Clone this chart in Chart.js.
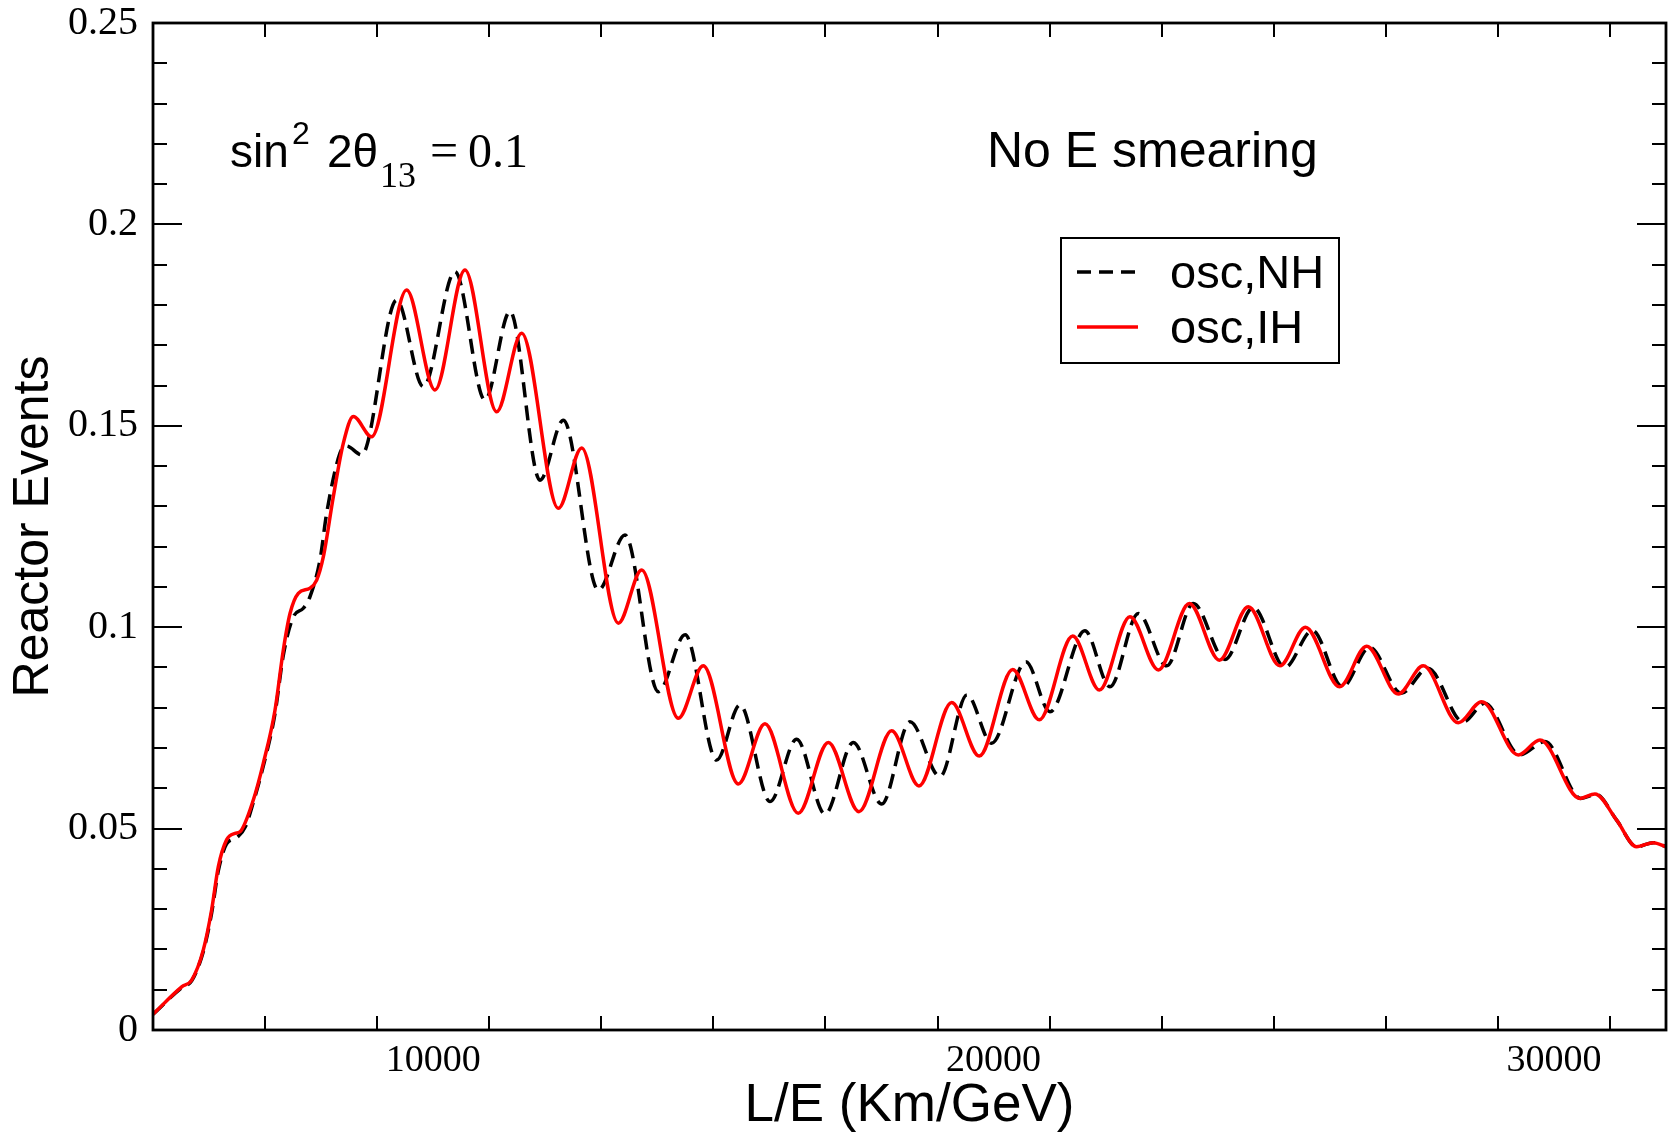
<!DOCTYPE html>
<html>
<head>
<meta charset="utf-8">
<script src="https://cdn.jsdelivr.net/npm/chart.js@4.4.0/dist/chart.umd.min.js"></script>
<style>
  html, body { margin: 0; padding: 0; background: #fff; }
</style>
</head>
<body>
<canvas id="chart" width="1669" height="1143"></canvas>
<script>
// values (peaks, troughs and shoulders)
const ihX = [5000,5512,5690,5898,6046,6165,6313,6463,6552,6790,6968,7177,7325,7445,7593,7802,7921,8040,8218,8397,8575,8902,9526,10032,10567,11133,11579,12233,12650,13304,13721,14374,14820,15445,15921,16515,17051,17598,18182,18669,19252,19745,20341,20816,21412,21888,22434,22941,23494,24030,24547,25110,25565,26175,26658,27222,27668,28293,28710,29364,29750,30464,30732,31119,31476,31773,32000];
const ihY = [0.0039,0.0107,0.0124,0.0199,0.0298,0.0405,0.0472,0.0488,0.0492,0.0571,0.0662,0.0794,0.0943,0.1034,0.1084,0.1097,0.1117,0.1175,0.1324,0.1457,0.1523,0.1473,0.1837,0.1589,0.1887,0.1535,0.1730,0.1295,0.1445,0.1010,0.1142,0.0774,0.0904,0.0611,0.0760,0.0538,0.0714,0.0542,0.0743,0.0606,0.0813,0.0680,0.0895,0.0770,0.0978,0.0844,0.1026,0.0894,0.1059,0.0918,0.1051,0.0904,0.1000,0.0852,0.0953,0.0834,0.0904,0.0763,0.0815,0.0683,0.0720,0.0575,0.0586,0.0521,0.0455,0.0465,0.0455];

const nhX = [5000,5512,5690,5898,6046,6165,6313,6500,6650,6790,6968,7177,7325,7505,7683,7802,7980,8099,8337,8450,8724,9348,9824,10389,10924,11371,11906,12323,12947,13423,14018,14497,15058,15475,16011,16486,16992,17497,18003,18509,19044,19526,19966,20577,21006,21630,22077,22583,23089,23565,24130,24636,25199,25690,26225,26711,27276,27752,28380,28764,29393,29839,30480,30750,31119,31476,31773,32000];
const nhY = [0.0039,0.0105,0.0122,0.0195,0.0290,0.0395,0.0462,0.0478,0.0505,0.0565,0.0655,0.0785,0.0930,0.1026,0.1047,0.1076,0.1167,0.1283,0.1432,0.1450,0.1428,0.1812,0.1597,0.1883,0.1564,0.1784,0.1365,0.1514,0.1092,0.1229,0.0840,0.0981,0.0670,0.0807,0.0567,0.0722,0.0536,0.0714,0.0561,0.0765,0.0629,0.0832,0.0712,0.0914,0.0790,0.0991,0.0852,0.1034,0.0904,0.1059,0.0920,0.1049,0.0900,0.0992,0.0852,0.0950,0.0836,0.0898,0.0765,0.0811,0.0683,0.0716,0.0575,0.0585,0.0521,0.0455,0.0465,0.0455];

const xTicks = [10000, 20000, 30000];
const xTickLabels = ["10000", "20000", "30000"];
const yTicks = [0, 0.05, 0.1, 0.15, 0.2, 0.25];
const yTickLabels = ["0", "0.05", "0.1", "0.15", "0.2", "0.25"];
const xMinorStep = 2000;
const yMinorStep = 0.01;

const SANS = "'Liberation Sans', Arial, sans-serif";
const SERIF = "'Liberation Serif', 'Times New Roman', serif";

function toPoints(xs, ys) {
  return xs.map((x, i) => ({ x: x, y: ys[i] }));
}

// inward ticks on all four sides + the box
const framePlugin = {
  id: "frame",
  afterDatasetsDraw(chart) {
    const { ctx, chartArea: a, scales: { x, y } } = chart;
    ctx.save();
    ctx.strokeStyle = "#000";
    ctx.lineWidth = 2;
    ctx.beginPath();
    for (let v = x.min + xMinorStep; v < x.max; v += xMinorStep) {
      const px = Math.round(x.getPixelForValue(v));
      const len = xTicks.includes(v) ? 29 : 14;
      ctx.moveTo(px, a.bottom); ctx.lineTo(px, a.bottom - len);
      ctx.moveTo(px, a.top); ctx.lineTo(px, a.top + len);
    }
    for (let i = 1; i * yMinorStep < y.max - 1e-9; i++) {
      const v = i * yMinorStep;
      const py = Math.round(y.getPixelForValue(v));
      const major = yTicks.some(t => Math.abs(t - v) < 1e-9);
      const len = major ? 29 : 14;
      ctx.moveTo(a.left, py); ctx.lineTo(a.left + len, py);
      ctx.moveTo(a.right, py); ctx.lineTo(a.right - len, py);
    }
    ctx.stroke();
    ctx.lineWidth = 2.8;
    ctx.strokeRect(a.left, a.top, a.right - a.left, a.bottom - a.top);
    ctx.restore();
  },
  afterDraw(chart) {
    const ctx = chart.ctx;
    ctx.save();
    ctx.fillStyle = "#000";
    ctx.textBaseline = "alphabetic";
    ctx.textAlign = "left";

    // sin^2 2θ13 = 0.1
    ctx.font = "46px " + SANS;
    ctx.fillText("sin", 230, 167);
    ctx.font = "32px " + SANS;
    ctx.fillText("2", 292, 144);
    ctx.font = "46px " + SANS;
    ctx.fillText("2θ", 327, 167);
    ctx.font = "36px " + SERIF;
    ctx.fillText("13", 380, 187);
    ctx.font = "50px " + SERIF;
    ctx.fillText("=", 430, 167);
    ctx.font = "48px " + SERIF;
    ctx.fillText("0.1", 468, 167);

    ctx.font = "50px " + SANS;
    ctx.fillText("No E smearing", 987, 167);

    // legend
    ctx.lineWidth = 2;
    ctx.strokeStyle = "#000";
    ctx.strokeRect(1061, 238, 278, 125);
    ctx.lineWidth = 3.5;
    ctx.setLineDash([14, 8]);
    ctx.beginPath(); ctx.moveTo(1077, 272); ctx.lineTo(1140, 272); ctx.stroke();
    ctx.setLineDash([]);
    ctx.strokeStyle = "#ff0000";
    ctx.beginPath(); ctx.moveTo(1077, 327); ctx.lineTo(1138, 327); ctx.stroke();
    ctx.font = "47px " + SANS;
    ctx.fillText("osc,NH", 1170, 288);
    ctx.fillText("osc,IH", 1170, 343);
    ctx.restore();
  }
};

const ctx = document.getElementById("chart").getContext("2d");
new Chart(ctx, {
  type: "line",
  data: {
    datasets: [
      {
        label: "osc,IH",
        data: toPoints(ihX, ihY),
        borderColor: "#ff0000",
        borderWidth: 3.5,
        pointRadius: 0,
        fill: false,
        cubicInterpolationMode: "monotone"
      },
      {
        label: "osc,NH",
        data: toPoints(nhX, nhY),
        borderColor: "#000000",
        borderWidth: 3.5,
        borderDash: [15, 8],
        pointRadius: 0,
        fill: false,
        cubicInterpolationMode: "monotone"
      }
    ]
  },
  options: {
    responsive: false,
    devicePixelRatio: 1,
    animation: false,
    layout: { padding: { left: 0, right: 3, top: 23, bottom: 0 } },
    plugins: { legend: { display: false }, tooltip: { enabled: false } },
    scales: {
      x: {
        type: "linear",
        min: 5000,
        max: 32000,
        grid: { display: false, drawTicks: false },
        border: { display: false },
        afterBuildTicks: s => { s.ticks = xTicks.map(v => ({ value: v })); },
        afterFit: s => { s.height = 113; },
        ticks: {
          autoSkip: false,
          maxRotation: 0,
          padding: 8,
          color: "#000",
          font: { family: SERIF, size: 38 },
          callback: (v, i) => xTickLabels[i]
        },
        title: {
          display: true,
          text: "L/E (Km/GeV)",
          color: "#000",
          font: { family: SANS, size: 53, lineHeight: 1.2 },
          padding: { top: 0, bottom: 5 }
        }
      },
      y: {
        type: "linear",
        min: 0,
        max: 0.25,
        grid: { display: false, drawTicks: false },
        border: { display: false },
        afterBuildTicks: s => { s.ticks = yTicks.map(v => ({ value: v })); },
        afterFit: s => { s.width = 153; },
        ticks: {
          autoSkip: false,
          padding: 15,
          color: "#000",
          font: { family: SERIF, size: 40, lineHeight: 0.4 },
          callback: (v, i) => yTickLabels[i]
        },
        title: {
          display: true,
          text: "Reactor Events",
          color: "#000",
          font: { family: SANS, size: 50, lineHeight: 1.2 },
          padding: { top: 4, bottom: 0 }
        }
      }
    }
  },
  plugins: [framePlugin]
});
</script>
</body>
</html>
